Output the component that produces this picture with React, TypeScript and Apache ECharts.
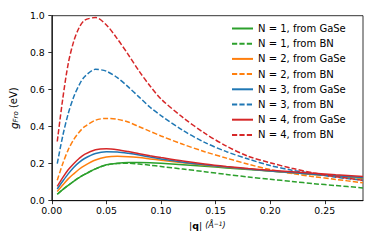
import React, { useEffect, useRef } from "react";
import * as echarts from "echarts";

const qValues = [0.005, 0.01, 0.015, 0.02, 0.025, 0.03, 0.04, 0.05, 0.06, 0.07, 0.08, 0.09, 0.10, 0.12, 0.14, 0.16, 0.18, 0.20, 0.22, 0.24, 0.26, 0.285];

const n1GaSe = [0.035, 0.06, 0.083, 0.105, 0.125, 0.142, 0.172, 0.194, 0.203, 0.206, 0.206, 0.205, 0.202, 0.194, 0.186, 0.177, 0.169, 0.16, 0.151, 0.142, 0.133, 0.122];
const n1BN = [0.035, 0.06, 0.083, 0.105, 0.125, 0.142, 0.172, 0.193, 0.201, 0.202, 0.198, 0.192, 0.185, 0.171, 0.157, 0.142, 0.128, 0.116, 0.104, 0.092, 0.082, 0.069];
const n2GaSe = [0.05, 0.085, 0.118, 0.145, 0.17, 0.19, 0.22, 0.236, 0.24, 0.238, 0.233, 0.226, 0.219, 0.205, 0.192, 0.181, 0.171, 0.161, 0.151, 0.142, 0.134, 0.123];
const n2BN = [0.11, 0.2, 0.275, 0.33, 0.37, 0.40, 0.435, 0.445, 0.44, 0.425, 0.40, 0.375, 0.35, 0.305, 0.265, 0.23, 0.197, 0.168, 0.147, 0.13, 0.115, 0.097];
const n3GaSe = [0.063, 0.105, 0.145, 0.18, 0.207, 0.228, 0.255, 0.265, 0.263, 0.256, 0.247, 0.236, 0.226, 0.208, 0.194, 0.182, 0.171, 0.161, 0.152, 0.143, 0.135, 0.126];
const n3BN = [0.2, 0.35, 0.47, 0.56, 0.625, 0.67, 0.71, 0.70, 0.665, 0.615, 0.56, 0.505, 0.46, 0.38, 0.315, 0.265, 0.225, 0.19, 0.165, 0.145, 0.127, 0.11];
const n4GaSe = [0.078, 0.125, 0.167, 0.2, 0.228, 0.25, 0.275, 0.281, 0.276, 0.266, 0.254, 0.243, 0.233, 0.214, 0.198, 0.185, 0.174, 0.164, 0.156, 0.148, 0.14, 0.131];
const n4BN = [0.32, 0.55, 0.74, 0.86, 0.935, 0.975, 0.99, 0.95, 0.875, 0.79, 0.70, 0.62, 0.55, 0.45, 0.365, 0.295, 0.24, 0.205, 0.175, 0.15, 0.13, 0.11];

const seriesNames = [
  "N = 1, from GaSe",
  "N = 1, from BN",
  "N = 2, from GaSe",
  "N = 2, from BN",
  "N = 3, from GaSe",
  "N = 3, from BN",
  "N = 4, from GaSe",
  "N = 4, from BN",
];
const seriesData = [n1GaSe, n1BN, n2GaSe, n2BN, n3GaSe, n3BN, n4GaSe, n4BN];
const colors = ["#2ca02c", "#2ca02c", "#ff7f0e", "#ff7f0e", "#1f77b4", "#1f77b4", "#d62728", "#d62728"];
const dashedFlags = [false, true, false, true, false, true, false, true];

const FONT = "DejaVu Sans";

export default function App() {
  const ref = useRef<HTMLDivElement>(null);
  useEffect(() => {
    if (!ref.current) return;
    const chart = echarts.init(ref.current, null, { renderer: "svg" });
    const series = seriesData.map((vals, i) => ({
      name: seriesNames[i],
      type: "line",
      data: vals.map((v, j) => [qValues[j], v]),
      showSymbol: false,
      symbol: "none",
      smooth: 0.3,
      lineStyle: {
        color: colors[i],
        width: 1.5,
        type: dashedFlags[i] ? [5.2, 2.2] : "solid",
      },
      itemStyle: { color: colors[i] },
      z: 2 + i,
    }));
    chart.setOption({
      animation: false,
      backgroundColor: "#ffffff",
      grid: {
        left: 51,
        right: 11,
        top: 15.7,
        bottom: 48.3,
        show: true,
        borderColor: "#000",
        borderWidth: 0.8,
        backgroundColor: "transparent",
      },
      legend: {
        orient: "vertical",
        left: 231,
        top: 22.5,
        itemWidth: 21,
        itemHeight: 12,
        itemGap: 3.2,
        itemStyle: { opacity: 0, borderWidth: 0 },
        textStyle: { fontFamily: FONT, fontSize: 10, color: "#000", lineHeight: 12 },
        data: seriesNames,
        backgroundColor: "rgba(255,255,255,0.8)",
        padding: [0, 4, 0, 0],
      },
      xAxis: {
        type: "value",
        min: 0,
        max: 0.285,
        interval: 0.05,
        splitLine: { show: false },
        axisLine: { show: true, onZero: false, lineStyle: { color: "#000", width: 0.8 } },
        axisTick: { show: true, inside: false, length: 3.5, lineStyle: { color: "#000", width: 0.8 } },
        axisLabel: {
          margin: 5,
          fontFamily: FONT,
          fontSize: 9.4,
          color: "#000",
          showMaxLabel: false,
          formatter: (v: number) => v.toFixed(2),
        },
        name: "|{b|q}| {s|(Å}{sup|−1}{s|)}",
        nameLocation: "middle",
        nameGap: 20,
        nameTextStyle: {
          fontFamily: FONT,
          fontSize: 9.4,
          color: "#000",
          rich: {
            b: { fontFamily: FONT, fontSize: 9.4, fontWeight: "bold", color: "#000" },
            s: { fontFamily: FONT, fontSize: 8, fontStyle: "italic", color: "#000" },
            sup: { fontFamily: FONT, fontSize: 6, fontStyle: "italic", color: "#000", verticalAlign: "top" },
          },
        },
      },
      yAxis: {
        type: "value",
        min: 0,
        max: 1,
        interval: 0.2,
        splitLine: { show: false },
        axisLine: { show: true, onZero: false, lineStyle: { color: "#000", width: 0.8 } },
        axisTick: { show: true, inside: false, length: 3.5, lineStyle: { color: "#000", width: 0.8 } },
        axisLabel: {
          margin: 7,
          fontFamily: FONT,
          fontSize: 9.4,
          color: "#000",
          formatter: (v: number) => v.toFixed(1),
        },
        name: "{g|g}{sub|Fro} (eV)",
        nameLocation: "middle",
        nameGap: 19,
        nameRotate: 90,
        nameTextStyle: {
          fontFamily: FONT,
          fontSize: 10,
          color: "#000",
          rich: {
            g: { fontFamily: FONT, fontSize: 10.5, fontStyle: "italic", color: "#000" },
            sub: { fontFamily: FONT, fontSize: 7, fontStyle: "italic", color: "#000", verticalAlign: "bottom" },
          },
        },
      },
      series,
    });
    return () => chart.dispose();
  }, []);
  return <div ref={ref} style={{ width: 374, height: 249, margin: -8 }} />;
}
